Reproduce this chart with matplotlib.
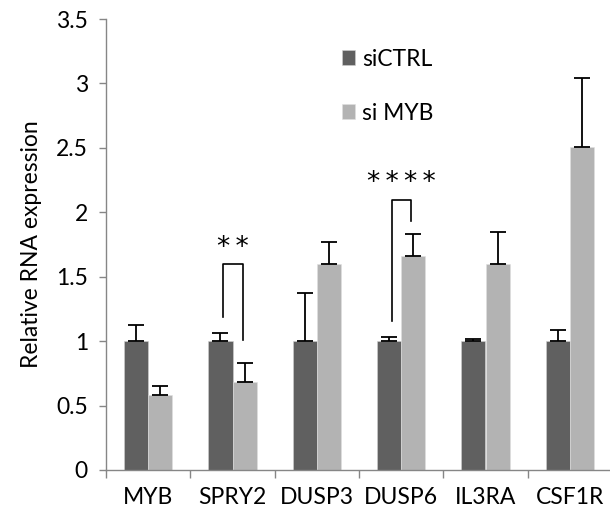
import matplotlib
matplotlib.use("Agg")
import matplotlib.pyplot as plt
import numpy as np

categories = ["MYB", "SPRY2", "DUSP3", "DUSP6", "IL3RA", "CSF1R"]
series_names = ["siCTRL", "si MYB"]
sictrl = [1.0, 1.0, 1.0, 1.0, 1.0, 1.0]
sictrl_err = [0.125, 0.06, 0.37, 0.03, 0.02, 0.086]
simyb = [0.58, 0.685, 1.60, 1.66, 1.60, 2.51]
simyb_err = [0.075, 0.145, 0.17, 0.17, 0.25, 0.53]
yticks = [0, 0.5, 1, 1.5, 2, 2.5, 3, 3.5]
ytick_labels = ["0", "0.5", "1", "1.5", "2", "2.5", "3", "3.5"]
# significance: (category index, label, bracket top, left leg bottom, right leg bottom)
sig_cat = [1, 3]
sig_label = ["**", "****"]
sig_top = [1.595, 2.095]
sig_left_bottom = [1.19, 1.156]
sig_right_bottom = [1.01, 1.93]

plt.rcParams['font.family'] = ['Lato', 'DejaVu Sans']

fig = plt.figure(figsize=(6.10, 5.17), dpi=100)
ax = fig.add_axes([106/610, 47/517, 506/610, 451/517])

x = np.arange(len(categories))
w = 0.285
dark = "#606060"
light = "#b3b3b3"
ax.bar(x - w/2, sictrl, w, color=dark, edgecolor="#d0d0d0", linewidth=0.4, label=series_names[0], zorder=2)
ax.bar(x + w/2, simyb, w, color=light, edgecolor="#e0e0e0", linewidth=0.4, label=series_names[1], zorder=2)
ax.errorbar(x - w/2, sictrl, yerr=[np.zeros(len(x)), sictrl_err], fmt="none",
            ecolor="black", elinewidth=1.3, capsize=6, capthick=1.3, zorder=3)
ax.errorbar(x + w/2, simyb, yerr=[np.zeros(len(x)), simyb_err], fmt="none",
            ecolor="black", elinewidth=1.3, capsize=6, capthick=1.3, zorder=3)

for c, lab, top, lb, rb in zip(sig_cat, sig_label, sig_top, sig_left_bottom, sig_right_bottom):
    xl = c - w/2 + 0.035
    xr = c + w/2 - 0.02
    ax.plot([xl, xl, xr, xr], [lb, top, top, rb], color="black", lw=1.2, zorder=4)
    ax.text((xl + xr)/2, top + 0.03, "\u2009".join(lab), ha="center", va="bottom", fontsize=19,
            family="DejaVu Sans", zorder=4)

fs = 16.5
ax.set_xlim(-0.5, len(categories) - 0.5)
ax.set_ylim(0, 3.5)
ax.set_yticks(yticks)
ax.set_yticklabels(ytick_labels, fontsize=fs)
ax.set_xticks(np.arange(len(categories) + 1) - 0.5)
ax.set_xticklabels([])
ax.set_xticks(x, minor=True)
ax.set_xticklabels(categories, minor=True, fontsize=fs)
ax.tick_params(axis="x", which="major", length=6, color="#868686", width=1)
ax.tick_params(axis="x", which="minor", length=0, pad=12)
ax.tick_params(axis="y", length=5, color="#868686", width=1, pad=8)
for s in ["top", "right"]:
    ax.spines[s].set_visible(False)
for s in ["left", "bottom"]:
    ax.spines[s].set_color("#868686")
    ax.spines[s].set_linewidth(1)
ax.set_ylabel("Relative RNA expression", fontsize=fs, labelpad=10)

leg = ax.legend(loc="upper left", bbox_to_anchor=(321/610, 1 - 28/517), bbox_transform=fig.transFigure,
                frameon=False, fontsize=fs, handlelength=0.6, handleheight=0.6,
                handletextpad=0.3, labelspacing=1.45)

fig.savefig("out.png", dpi=100)
